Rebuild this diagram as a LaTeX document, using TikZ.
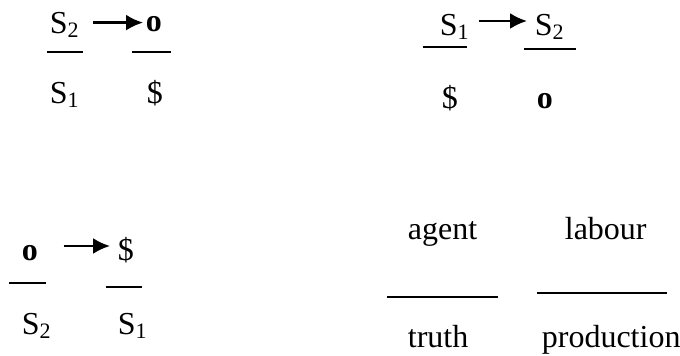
\documentclass[tikz,border=0pt]{standalone}
\usepackage{fontspec}
\setmainfont{Liberation Serif}
\usetikzlibrary{arrows.meta}
\newcommand{\subidx}[1]{\raisebox{-2pt}{\fontsize{11}{13}\selectfont #1}}

\begin{document}
\begin{tikzpicture}[x=0.5pt,y=-0.5pt,>={Latex[length=8.5pt,width=8pt]},
		line width=0.85pt,
		sym node/.style={inner sep=0pt,anchor=base west,font=\fontsize{16}{19}\selectfont},
		rule arrow/.style={->,line width=1.2pt}]
		\useasboundingbox (0,0) rectangle (680,356);
		
		% top left
		\node[sym node] (a) at (49,34) {S\subidx{2}};
		\node[sym node] (b) at (145,32) {\textbf{o}};
		\node[sym node] (c) at (49,104) {S\subidx{1}};
		\node[sym node] (d) at (146,104) {\$};
		
		% top right
		\node[sym node] (e) at (439,36) {S\subidx{1}};
		\node[sym node] (f) at (534,36) {S\subidx{2}};
		\node[sym node] (g) at (441,109) {\$};
		\node[sym node] (h) at (536,109) {\textbf{o}};
		
		% bottom left
		\node[sym node] (i) at (21,261) {\textbf{o}};
		\node[sym node] (j) at (117,261) {\$};
		\node[sym node] (k) at (21,335) {S\subidx{2}};
		\node[sym node] (l) at (117,335) {S\subidx{1}};
		
		% bottom right
		\node[sym node] (m) at (407,240) {agent};
		\node[sym node] (n) at (564,240) {labour};
		\node[sym node] (p) at (407,348) {truth};
		\node[sym node] (q) at (541,348) {production};
		
		% arrows
		\coordinate (a1) at ([yshift=5.7pt]a.base east);
		\coordinate (e1) at ([yshift=7.5pt]e.base east);
		\coordinate (i1) at ([yshift=7.5pt]i.base east);
		\draw[rule arrow,shorten <=7pt,shorten >=1pt] (a1) -- (a1 -| b.west);
		\draw[rule arrow,shorten <=4.5pt,shorten >=3.5pt] (e1) -- (e1 -| f.west);
		\draw[rule arrow,shorten <=12.5pt,shorten >=3.5pt] (i1) -- (i1 -| j.west);
		
		% fraction bars
		\foreach \xa/\xb/\y in {47/83/52, 132/171/52, 423/467/47, 524/576/49,
			9/46/283, 106/142/287, 387/498/297, 537/667/293}
		\draw (\xa,\y) -- (\xb,\y);
\end{tikzpicture}
\end{document}
